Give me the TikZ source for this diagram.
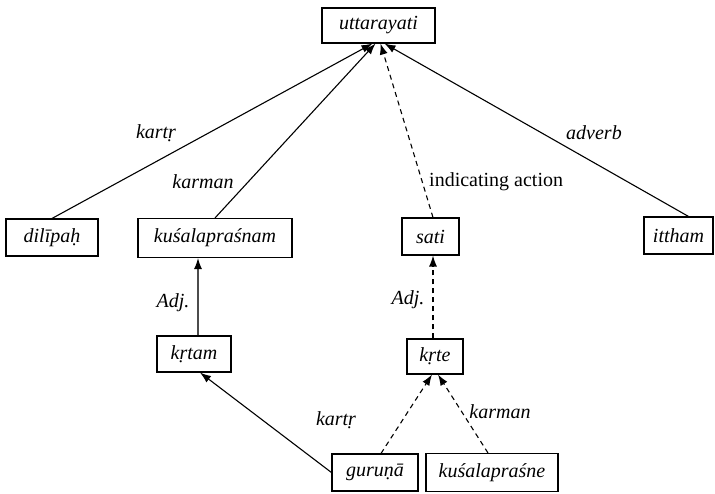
\documentclass[tikz,border=0pt]{standalone}
\usepackage{fontspec}
\setmainfont{Liberation Serif}
\usetikzlibrary{arrows.meta}
\begin{document}
\begin{tikzpicture}[x=1pt,y=-1pt,
  word/.style={draw,line width=1.1pt,inner sep=0pt,font=\fontsize{20}{24}\selectfont\itshape},
  lbl/.style={inner sep=0pt,font=\fontsize{20}{24}\selectfont\itshape},
  plain/.style={inner sep=0pt,font=\fontsize{20}{24}\selectfont},
  arr/.style={line width=1.1pt,-{Latex[length=11pt,width=8pt,color=black]}},
  darr/.style={arr,dash pattern=on 5pt off 4pt}]
\useasboundingbox (0,0) rectangle (715,494);
% words
\node[word,minimum width=113pt,minimum height=35pt] (utt) at (378.5,25.5) {uttarayati};
\node[word,minimum width=92pt,minimum height=37pt] (dil) at (52,237.5) {dilīpaḥ};
\node[word,minimum width=154pt,minimum height=39pt] (kus) at (215,238) {kuśalapraśnam};
\node[word,minimum width=57pt,minimum height=37pt] (sati) at (430.5,236.5) {sati};
\node[word,minimum width=69pt,minimum height=37pt] (itt) at (678.5,235.5) {ittham};
\node[word,minimum width=74pt,minimum height=36pt] (krtam) at (194,354) {kṛtam};
\node[word,minimum width=56pt,minimum height=35pt] (krte) at (435,356.5) {kṛte};
\node[word,minimum width=86pt,minimum height=37pt] (guru) at (375,472.5) {guruṇā};
\node[word,minimum width=132pt,minimum height=38pt] (kusn) at (492,472.5) {kuśalapraśne};
% relations to the verb
\draw[arr] (dil.north) -- ([xshift=-6pt]utt.south);
\draw[arr] (kus.north) -- ([xshift=-3pt]utt.south);
\draw[darr] ([xshift=2.5pt]sati.north) -- ([xshift=2pt]utt.south);
\draw[arr] ([xshift=10pt]itt.north) -- ([xshift=6pt]utt.south);
% lower relations
\draw[arr,draw=black!70] ([xshift=4pt]krtam.north) -- ([xshift=-17pt]kus.south);
\draw[darr] ([xshift=-2pt]krte.north) -- ([xshift=2.5pt]sati.south);
\draw[arr] (guru.west) -- ([xshift=6pt]krtam.south);
\draw[darr] ([xshift=6pt]guru.north) -- ([xshift=-3pt]krte.south);
\draw[darr] ([xshift=-4pt]kusn.north) -- ([xshift=3pt]krte.south);
% labels
\node[lbl] (l1) at (156,133) {kartṛ};
\node[lbl] (l2) at (594,133) {adverb};
\node[lbl] (l3) at (203,182) {karman};
\node[plain,anchor=west] (l4) at (429,182) {indicating action};
\node[lbl] (l5) at (173,303) {Adj.};
\node[lbl] (l6) at (408,300) {Adj.};
\node[lbl] (l7) at (336,420) {kartṛ};
\node[lbl] (l8) at (500,412) {karman};
\end{tikzpicture}
\end{document}
